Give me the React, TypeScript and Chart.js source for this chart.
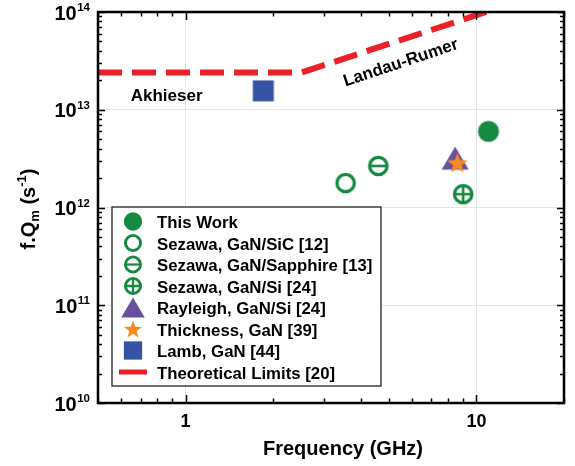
import React, { useEffect, useRef } from 'react';
import { Chart, registerables } from 'chart.js';

Chart.register(...registerables);

// ---------------- data ----------------
const seriesLabels = [
  'This Work',
  'Sezawa, GaN/SiC [12]',
  'Sezawa, GaN/Sapphire [13]',
  'Sezawa, GaN/Si [24]',
  'Rayleigh, GaN/Si [24]',
  'Thickness, GaN [39]',
  'Lamb, GaN [44]',
  'Theoretical Limits [20]',
];
const thisWorkFreq = [11.0];
const thisWorkFQ = [6.0e12];
const sezawaSiCFreq = [3.55];
const sezawaSiCFQ = [1.78e12];
const sezawaSapphireFreq = [4.6];
const sezawaSapphireFQ = [2.66e12];
const sezawaSiFreq = [9.0];
const sezawaSiFQ = [1.37e12];
const rayleighFreq = [8.45];
const rayleighFQ = [3.2e12];
const thicknessFreq = [8.6];
const thicknessFQ = [2.87e12];
const lambFreq = [1.85];
const lambFQ = [1.56e13];
const limitFreq = [0.5, 2.5, 10.8];
const limitFQ = [2.4e13, 2.4e13, 1.0e14];

const xTickValues = [1, 10];
const xTickLabels = ['1', '10'];
const yTickValues = [1e10, 1e11, 1e12, 1e13, 1e14];
const yTickExponents = ['10', '11', '12', '13', '14'];

const annotationTexts = ['Akhieser', 'Landau-Rumer'];
const annotationFreq = [0.648, 5.5];
const annotationFQ = [1.38e13, 3.0e13];

// ---------------- styles ----------------
const GREEN = '#15893f';
const PURPLE = '#6a4f9f';
const ORANGE = '#f68b1f';
const BLUE = '#3652a3';
const RED = '#ec2127';
const FONT = '"Liberation Sans", Arial, sans-serif';

type Kind = 'filled' | 'open' | 'bar' | 'plus' | 'triangle' | 'star' | 'square' | 'line';
const kinds: Kind[] = ['filled', 'open', 'bar', 'plus', 'triangle', 'star', 'square', 'line'];

function drawMarker(ctx: CanvasRenderingContext2D, kind: Kind, cx: number, cy: number, s: number) {
  ctx.save();
  if (kind === 'filled') {
    ctx.fillStyle = GREEN;
    ctx.beginPath();
    ctx.arc(cx, cy, 10.5 * s, 0, Math.PI * 2);
    ctx.fill();
  } else if (kind === 'open' || kind === 'bar' || kind === 'plus') {
    const r = 8.7 * s;
    ctx.strokeStyle = GREEN;
    ctx.lineWidth = 3.3 * s;
    ctx.beginPath();
    ctx.arc(cx, cy, r, 0, Math.PI * 2);
    ctx.stroke();
    if (kind !== 'open') {
      ctx.lineWidth = 2.6 * s;
      ctx.beginPath();
      ctx.moveTo(cx - r, cy);
      ctx.lineTo(cx + r, cy);
      if (kind === 'plus') {
        ctx.moveTo(cx, cy - r);
        ctx.lineTo(cx, cy + r);
      }
      ctx.stroke();
    }
  } else if (kind === 'triangle') {
    const w = 27 * s, h = 23 * s;
    ctx.fillStyle = PURPLE;
    ctx.beginPath();
    ctx.moveTo(cx, cy - h / 2);
    ctx.lineTo(cx + w / 2, cy + h / 2);
    ctx.lineTo(cx - w / 2, cy + h / 2);
    ctx.closePath();
    ctx.fill();
  } else if (kind === 'star') {
    const ro = 10.8 * s, ri = 4.5 * s;
    ctx.fillStyle = ORANGE;
    ctx.beginPath();
    for (let i = 0; i < 10; i++) {
      const a = -Math.PI / 2 + (i * Math.PI) / 5;
      const r = i % 2 === 0 ? ro : ri;
      const px = cx + r * Math.cos(a), py = cy + r * Math.sin(a) + 1 * s;
      if (i === 0) ctx.moveTo(px, py); else ctx.lineTo(px, py);
    }
    ctx.closePath();
    ctx.fill();
  } else if (kind === 'square') {
    const a = 21 * s;
    ctx.fillStyle = BLUE;
    ctx.fillRect(cx - a / 2, cy - a / 2, a, a);
  } else if (kind === 'line') {
    ctx.strokeStyle = RED;
    ctx.lineWidth = 5;
    ctx.beginPath();
    ctx.moveTo(cx - 14, cy);
    ctx.lineTo(cx + 14, cy);
    ctx.stroke();
  }
  ctx.restore();
}

function markerCanvas(kind: Kind, s: number): HTMLCanvasElement {
  const c = document.createElement('canvas');
  const size = 32;
  c.width = size;
  c.height = size;
  const ctx = c.getContext('2d')!;
  drawMarker(ctx, kind, size / 2, size / 2, s);
  return c;
}

function isDecade(v: number) {
  const l = Math.log10(v);
  return Math.abs(l - Math.round(l)) < 1e-6;
}

function logTicks(min: number, max: number) {
  const out: { v: number; major: boolean }[] = [];
  for (let e = Math.floor(Math.log10(min)) - 1; e <= Math.ceil(Math.log10(max)); e++) {
    for (let m = 1; m <= 9; m++) {
      const v = m * Math.pow(10, e);
      if (v >= min * 0.9999 && v <= max * 1.0001) out.push({ v, major: m === 1 });
    }
  }
  return out;
}

const decorPlugin = {
  id: 'decor',
  afterDraw(chart: any) {
    const ctx: CanvasRenderingContext2D = chart.ctx;
    const a = chart.chartArea;
    const xs = chart.scales.x;
    const ys = chart.scales.y;
    ctx.save();

    // ticks (inward on all sides)
    ctx.strokeStyle = '#000';
    ctx.lineWidth = 1.5;
    ctx.beginPath();
    for (const t of logTicks(xs.min, xs.max)) {
      const px = Math.round(xs.getPixelForValue(t.v)) + 0.5;
      const len = t.major ? 8 : 4.5;
      ctx.moveTo(px, a.bottom);
      ctx.lineTo(px, a.bottom - len);
      ctx.moveTo(px, a.top);
      ctx.lineTo(px, a.top + len);
    }
    for (const t of logTicks(ys.min, ys.max)) {
      const py = Math.round(ys.getPixelForValue(t.v)) + 0.5;
      const len = t.major ? 7 : 4;
      ctx.moveTo(a.left, py);
      ctx.lineTo(a.left + len, py);
      ctx.moveTo(a.right, py);
      ctx.lineTo(a.right - len, py);
    }
    ctx.stroke();

    // frame
    ctx.lineWidth = 2.5;
    ctx.strokeRect(a.left, a.top, a.right - a.left, a.bottom - a.top);

    // y tick labels 10^n
    ctx.fillStyle = '#000';
    ctx.textBaseline = 'alphabetic';
    yTickValues.forEach((v, i) => {
      const py = ys.getPixelForValue(v);
      ctx.font = `bold 11.5px ${FONT}`;
      const ew = ctx.measureText(yTickExponents[i]).width;
      ctx.font = `bold 20px ${FONT}`;
      const bw = ctx.measureText('10').width;
      const right = a.left - 8;
      ctx.textAlign = 'left';
      ctx.fillText('10', right - ew - bw - 0.5, py + 7.5);
      ctx.font = `bold 11.5px ${FONT}`;
      ctx.fillText(yTickExponents[i], right - ew, py - 1);
    });

    // x tick labels
    ctx.font = `bold 18px ${FONT}`;
    ctx.textAlign = 'center';
    xTickValues.forEach((v, i) => {
      ctx.fillText(xTickLabels[i], xs.getPixelForValue(v), a.bottom + 24);
    });

    // x title
    ctx.font = `bold 20px ${FONT}`;
    ctx.fillText('Frequency (GHz)', (a.left + a.right) / 2 + 12, a.bottom + 52);

    // y title: f.Q_m (s^-1)
    {
      const parts: [string, number, number][] = [
        ['f.Q', 20, 0],
        ['m', 13, 4],
        [' (s', 20, 0],
        ['-1', 13, -9],
        [')', 20, 0],
      ];
      let total = 0;
      for (const [t, sz] of parts) {
        ctx.font = `bold ${sz}px ${FONT}`;
        total += ctx.measureText(t).width;
      }
      ctx.save();
      ctx.translate(a.left - 63, 209);
      ctx.rotate(-Math.PI / 2);
      ctx.textAlign = 'left';
      let x = -total / 2;
      for (const [t, sz, dy] of parts) {
        ctx.font = `bold ${sz}px ${FONT}`;
        ctx.fillText(t, x, dy);
        x += ctx.measureText(t).width;
      }
      ctx.restore();
    }

    // annotations
    ctx.font = `bold 17px ${FONT}`;
    ctx.textAlign = 'left';
    ctx.textBaseline = 'middle';
    ctx.fillText(annotationTexts[0], xs.getPixelForValue(annotationFreq[0]), ys.getPixelForValue(annotationFQ[0]));
    ctx.save();
    ctx.translate(xs.getPixelForValue(annotationFreq[1]), ys.getPixelForValue(annotationFQ[1]));
    ctx.rotate((-18.5 * Math.PI) / 180);
    ctx.textAlign = 'center';
    ctx.fillText(annotationTexts[1], 0, 0);
    ctx.restore();

    // legend box
    const lx = 112, ly = 207, lw = 269, lh = 179;
    ctx.fillStyle = '#fff';
    ctx.fillRect(lx, ly, lw, lh);
    ctx.strokeStyle = '#222';
    ctx.lineWidth = 1.3;
    ctx.strokeRect(lx, ly, lw, lh);
    ctx.fillStyle = '#000';
    ctx.font = `bold 16.8px ${FONT}`;
    ctx.textAlign = 'left';
    ctx.textBaseline = 'alphabetic';
    seriesLabels.forEach((lab, i) => {
      const cy = 221.5 + i * 21.5;
      drawMarker(ctx, kinds[i], 133, cy, 0.87);
      ctx.fillStyle = '#000';
      ctx.fillText(lab, 157, cy + 6.5);
    });

    ctx.restore();
  },
};

function pts(f: number[], q: number[]) {
  return f.map((v, i) => ({ x: v, y: q[i] }));
}

export default function App() {
  const ref = useRef<HTMLCanvasElement | null>(null);
  useEffect(() => {
    if (!ref.current) return;
    const mk = (k: Kind) => markerCanvas(k, 1);
    const scatter = (data: any, kind: Kind, order: number) => ({
      data,
      pointStyle: mk(kind),
      pointRadius: 10,
      showLine: false,
      order,
    });
    const chart = new Chart(ref.current, {
      type: 'scatter',
      data: {
        datasets: [
          {
            data: pts(limitFreq, limitFQ),
            showLine: true,
            borderColor: RED,
            borderWidth: 6,
            borderDash: [24, 10],
            pointRadius: 0,
            fill: false,
            tension: 0,
            order: 10,
          } as any,
          scatter(pts(thisWorkFreq, thisWorkFQ), 'filled', 1),
          scatter(pts(sezawaSiCFreq, sezawaSiCFQ), 'open', 2),
          scatter(pts(sezawaSapphireFreq, sezawaSapphireFQ), 'bar', 3),
          scatter(pts(sezawaSiFreq, sezawaSiFQ), 'plus', 4),
          scatter(pts(rayleighFreq, rayleighFQ), 'triangle', 6),
          scatter(pts(thicknessFreq, thicknessFQ), 'star', 5),
          scatter(pts(lambFreq, lambFQ), 'square', 7),
        ],
      },
      options: {
        animation: false,
        responsive: false,
        events: [],
        layout: { padding: { left: 98, top: 12, right: 11, bottom: 63 } },
        plugins: { legend: { display: false }, tooltip: { enabled: false } },
        scales: {
          x: {
            type: 'logarithmic',
            min: 0.5,
            max: 20,
            ticks: { display: false },
            border: { display: false },
            grid: {
              drawTicks: false,
              color: (c: any) => (c.tick && isDecade(c.tick.value) ? '#e4e4e4' : 'rgba(0,0,0,0)'),
              lineWidth: 1,
            },
            afterFit: (s: any) => {
              s.height = 0;
            },
          },
          y: {
            type: 'logarithmic',
            min: 1e10,
            max: 1e14,
            ticks: { display: false },
            border: { display: false },
            grid: {
              drawTicks: false,
              color: (c: any) => (c.tick && isDecade(c.tick.value) ? '#e4e4e4' : 'rgba(0,0,0,0)'),
              lineWidth: 1,
            },
            afterFit: (s: any) => {
              s.width = 0;
            },
          },
        },
      } as any,
      plugins: [decorPlugin],
    });
    return () => chart.destroy();
  }, []);
  return (
    <div style={{ position: 'fixed', left: 0, top: 0, width: 575, height: 466, background: '#fff' }}>
      <canvas ref={ref} width={575} height={466} style={{ display: 'block' }} />
    </div>
  );
}
